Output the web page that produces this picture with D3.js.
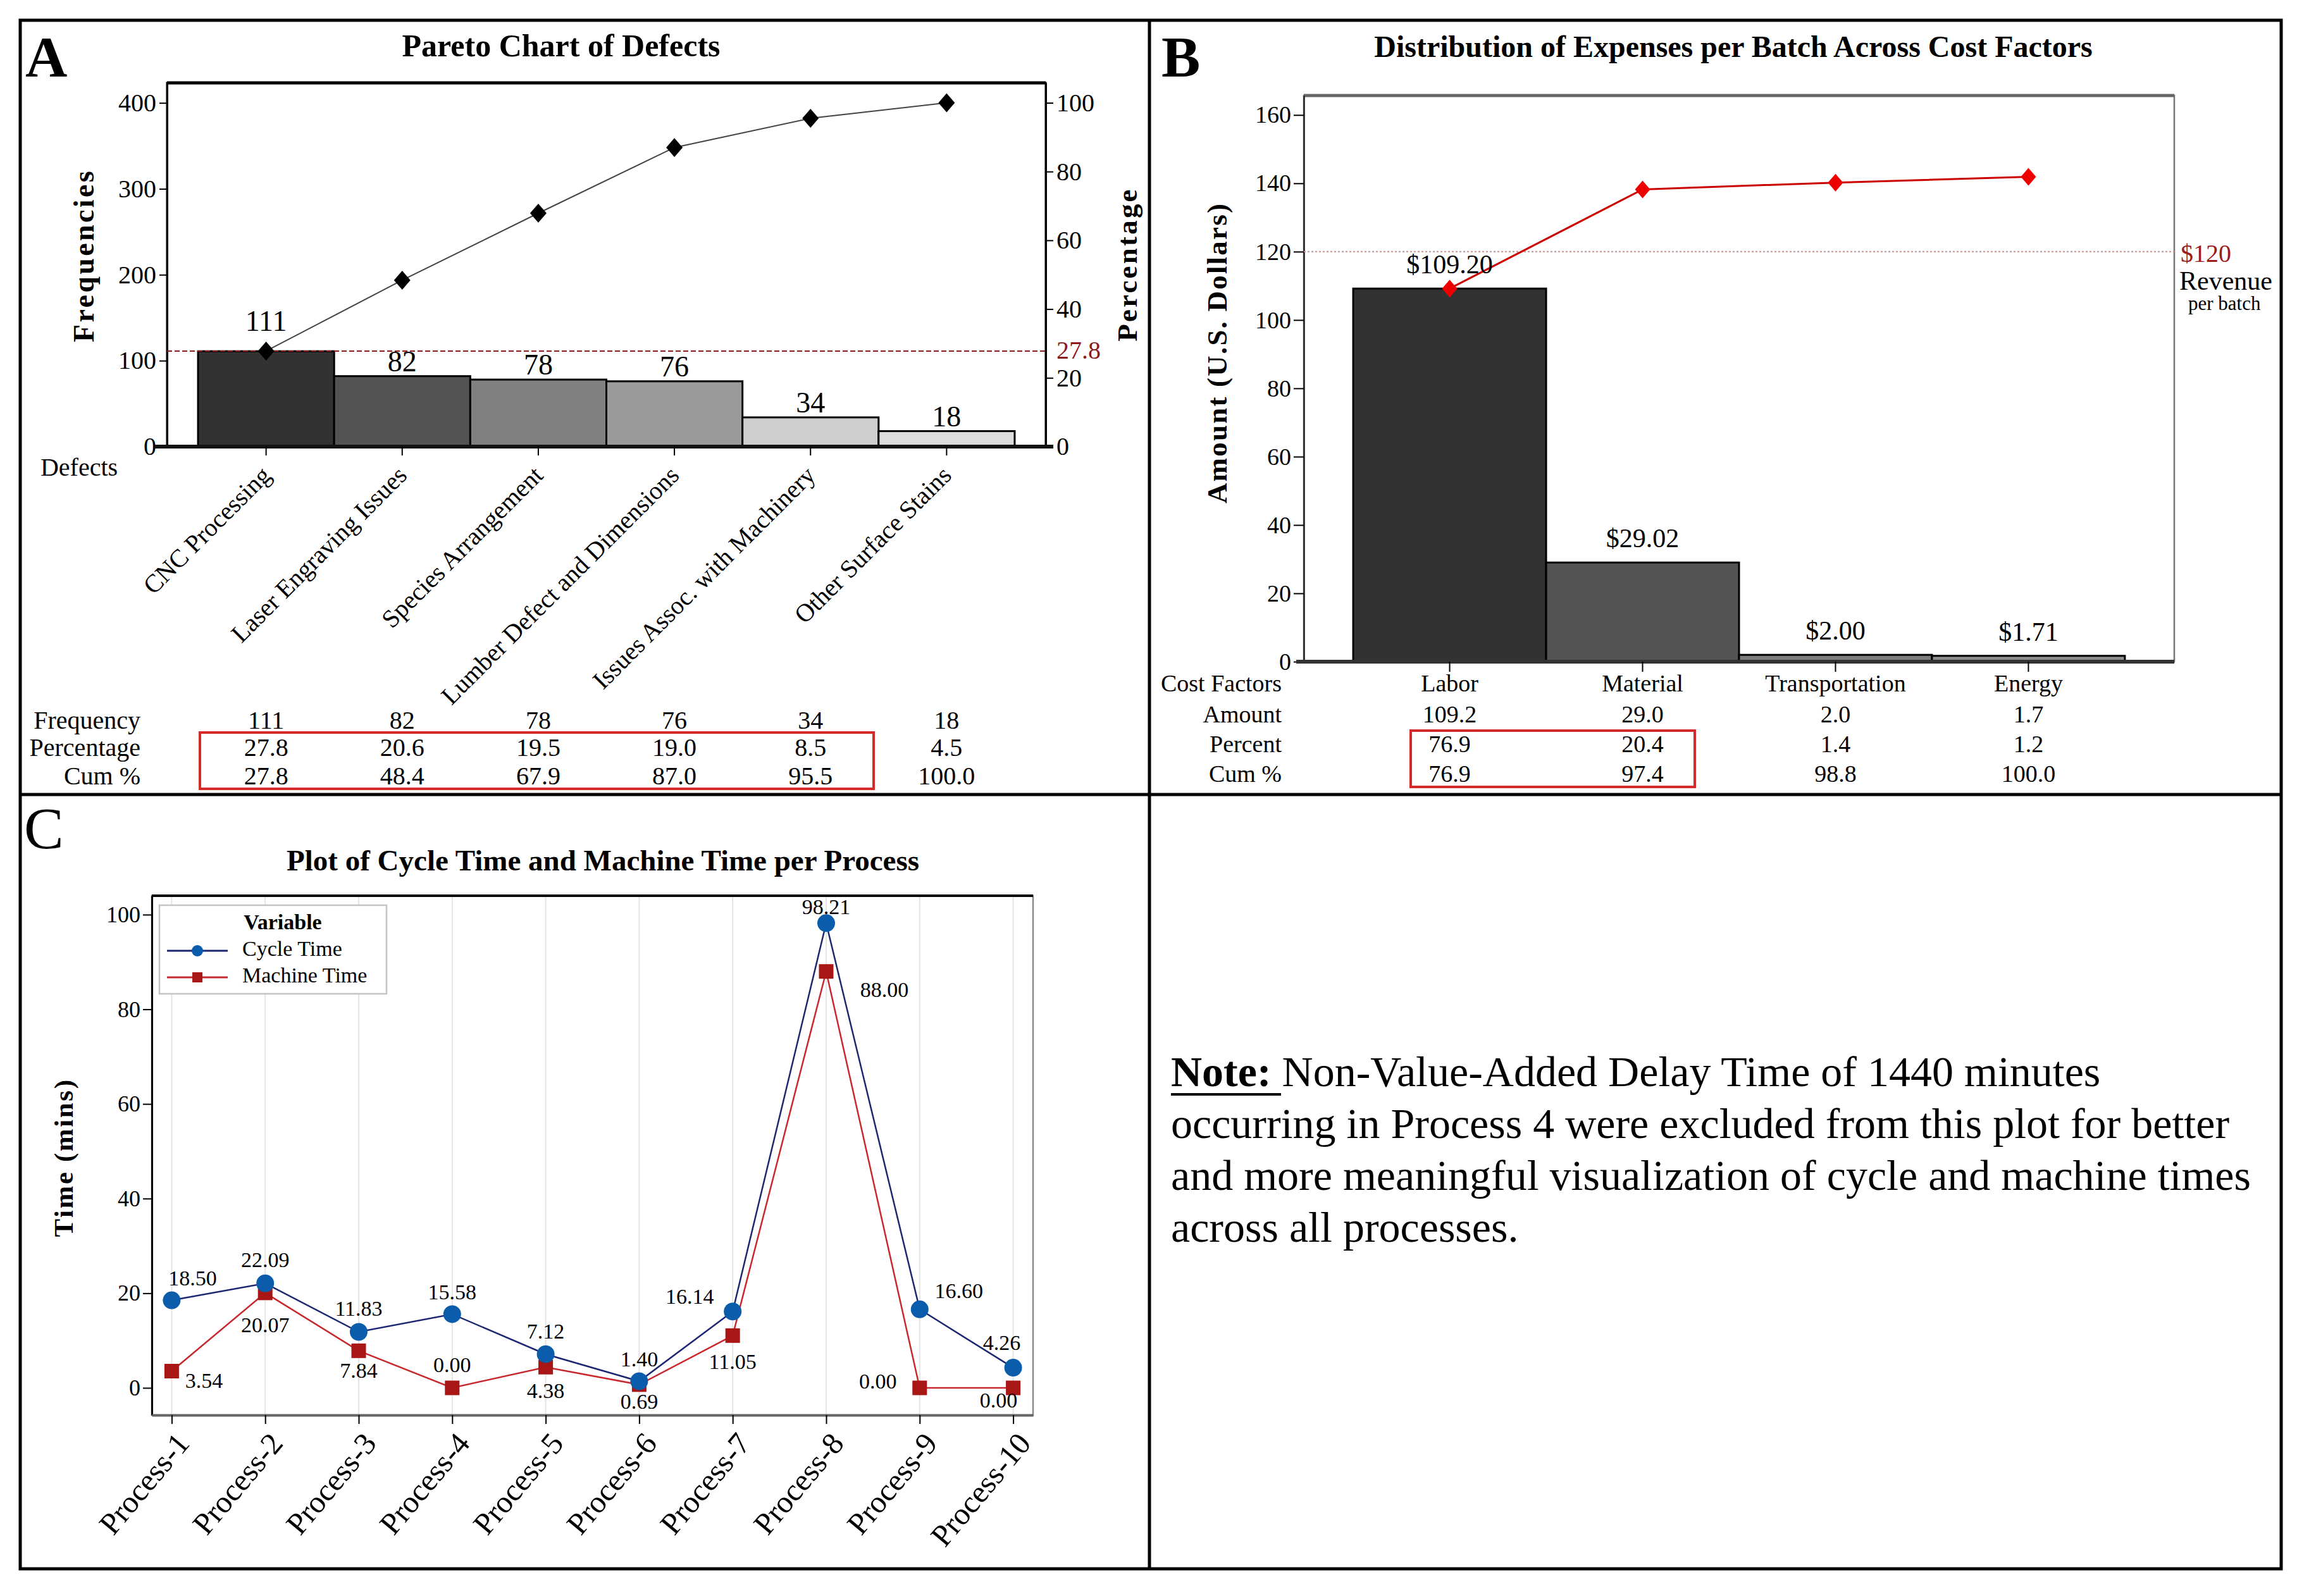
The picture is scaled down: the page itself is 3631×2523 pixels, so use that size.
<!DOCTYPE html>
<html>
<head>
<meta charset="utf-8">
<script src="https://cdn.jsdelivr.net/npm/d3@7"></script>
<style>
  body { margin: 0; background: #fff; }
  svg { display: block; }
</style>
</head>
<body>
<svg id="fig"></svg>
<script>
// ---- data: panel A (pareto of defects)
const defects = ["CNC Processing", "Laser Engraving Issues", "Species Arrangement",
                 "Lumber Defect and Dimensions", "Issues Assoc. with Machinery", "Other Surface Stains"];
const defectFreq = [111, 82, 78, 76, 34, 18];
const defectPct = [27.8, 20.6, 19.5, 19.0, 8.5, 4.5];
const defectCum = [27.8, 48.4, 67.9, 87.0, 95.5, 100.0];
const freqTicks = [0, 100, 200, 300, 400];
const pctTicks = [0, 20, 40, 60, 80, 100];

// ---- data: panel B (expenses per batch)
const costFactors = ["Labor", "Material", "Transportation", "Energy"];
const costAmount = [109.20, 29.02, 2.00, 1.71];
const costPct = [76.9, 20.4, 1.4, 1.2];
const costCum = [76.9, 97.4, 98.8, 100.0];
const costTicks = [0, 20, 40, 60, 80, 100, 120, 140, 160];
const revenue = 120;

// ---- data: panel C (cycle vs machine time)
const processes = ["Process-1", "Process-2", "Process-3", "Process-4", "Process-5",
                   "Process-6", "Process-7", "Process-8", "Process-9", "Process-10"];
const cycleTime = [18.50, 22.09, 11.83, 15.58, 7.12, 1.40, 16.14, 98.21, 16.60, 4.26];
const machineTime = [3.54, 20.07, 7.84, 0.00, 4.38, 0.69, 11.05, 88.00, 0.00, 0.00];
const timeTicks = [0, 20, 40, 60, 80, 100];

// label placement for panel C value labels (dx, dy from the point)
const cycleLabelOff = [[33,-35],[0,-37],[0,-37],[0,-35],[0,-36],[0,-35],[-68,-24],[0,-26],[62,-29],[-18,-40]];
const machineLabelOff = [[51,15],[0,51],[0,31],[0,-36],[0,37],[0,27],[0,41],[92,29],[-66,-10],[-23,20]];

const W = 3631, H = 2523;
const FONT = '"Liberation Serif", "Times New Roman", serif';

const svg = d3.select('#fig').attr('width', W).attr('height', H)
    .attr('font-family', FONT);

svg.append('rect').attr('width', W).attr('height', H).attr('fill', '#fff');

function txt(g, x, y, s, size, opts = {}) {
  return g.append('text')
      .attr('x', x).attr('y', y)
      .attr('font-size', size)
      .attr('font-weight', opts.bold ? 'bold' : null)
      .attr('text-anchor', opts.anchor || 'start')
      .attr('fill', opts.fill || '#000')
      .attr('letter-spacing', opts.ls || null)
      .text(s);
}

function vtxt(g, x, y, s, size, ls) {
  return g.append('text')
      .attr('transform', `translate(${x},${y}) rotate(-90)`)
      .attr('font-size', size).attr('font-weight', 'bold')
      .attr('text-anchor', 'middle').attr('dominant-baseline', 'central')
      .attr('letter-spacing', ls)
      .text(s);
}

function styleAxis(g, size) {
  g.attr('font-family', FONT).attr('font-size', size);
  g.selectAll('text').attr('fill', '#000').attr('font-family', FONT).attr('font-size', size);
  g.selectAll('.tick line').attr('stroke', '#000').attr('stroke-width', 2);
}

function diamond(w, h) {
  return `M0,${-h}L${w},0L0,${h}L${-w},0Z`;
}

// ---- panel A
{
  const g = svg.append('g');
  const L = 264, R = 1653, T = 131, B = 706;
  const x = d3.scaleBand().domain(defects).range([L, R]).paddingInner(0).paddingOuter(0.228);
  const y = d3.scaleLinear().domain([0, 423.3]).range([B, T]);
  const y2 = d3.scaleLinear().domain([0, 105.8]).range([B, T]);
  const fills = ['#323232', '#535353', '#808080', '#9a9a9a', '#cecece', '#dcdcdc'];

  txt(g, 40, 121, 'A', 92, {bold: true});
  txt(g, 887, 89, 'Pareto Chart of Defects', 50, {bold: true, anchor: 'middle'});

  g.append('rect').attr('x', L).attr('y', T).attr('width', R - L).attr('height', B - T)
      .attr('fill', 'none').attr('stroke', '#000').attr('stroke-width', 3);
  g.append('line').attr('x1', L).attr('x2', R).attr('y1', T).attr('y2', T)
      .attr('stroke', '#000').attr('stroke-width', 5);

  g.selectAll('.barA').data(defects).join('rect')
      .attr('x', d => x(d)).attr('width', x.bandwidth())
      .attr('y', (d, i) => y(defectFreq[i]))
      .attr('height', (d, i) => B - y(defectFreq[i]))
      .attr('fill', (d, i) => fills[i])
      .attr('stroke', '#000').attr('stroke-width', 3);

  const ax = g.append('g').attr('transform', `translate(${L},0)`)
      .call(d3.axisLeft(y).tickValues(freqTicks).tickSize(12).tickPadding(5).tickSizeOuter(0));
  ax.select('.domain').attr('stroke', '#000').attr('stroke-width', 3);
  styleAxis(ax, 40);

  const ax2 = g.append('g').attr('transform', `translate(${R},0)`)
      .call(d3.axisRight(y2).tickValues(pctTicks).tickSize(12).tickPadding(5).tickSizeOuter(0));
  ax2.select('.domain').attr('stroke', '#000').attr('stroke-width', 3);
  styleAxis(ax2, 40);

  const axb = g.append('g').attr('transform', `translate(0,${B})`)
      .call(d3.axisBottom(x).tickSize(14).tickFormat('').tickSizeOuter(0));
  axb.select('.domain').attr('stroke', '#111').attr('stroke-width', 6)
      .attr('d', `M${L - 20},0H${R + 12}`);
  styleAxis(axb, 38);

  // 27.8 reference line
  const yRef = y2(defectCum[0]);
  g.append('line').attr('x1', L).attr('x2', R).attr('y1', yRef).attr('y2', yRef)
      .attr('stroke', '#8b1a1a').attr('stroke-width', 2).attr('stroke-dasharray', '8,4');
  txt(g, R + 17, yRef + 12, defectCum[0].toFixed(1), 40, {fill: '#8b1a1a'});

  // cumulative line
  const cx = d => x(d) + x.bandwidth() / 2;
  g.append('path').datum(defects)
      .attr('d', d3.line().x(cx).y((d, i) => y2(defectCum[i])))
      .attr('fill', 'none').attr('stroke', '#444').attr('stroke-width', 2);
  g.selectAll('.dmA').data(defects).join('path')
      .attr('transform', (d, i) => `translate(${cx(d)},${y2(defectCum[i])})`)
      .attr('d', diamond(13, 15)).attr('fill', '#000');

  // bar value labels (lifted above the marker when it sits on the bar top)
  g.selectAll('.lbA').data(defects).join('text')
      .attr('x', cx)
      .attr('y', (d, i) => {
        const yb = y(defectFreq[i]), yp = y2(defectCum[i]);
        return (Math.abs(yb - yp) < 30 ? Math.min(yb, yp) - 24 : yb) - 8;
      })
      .attr('text-anchor', 'middle').attr('font-size', 46)
      .text((d, i) => defectFreq[i]);

  txt(g, 125, 752, 'Defects', 40, {anchor: 'middle'});

  g.selectAll('.catA').data(defects).join('text')
      .attr('transform', d => `translate(${cx(d) - 10},${B + 28}) rotate(-45)`)
      .attr('text-anchor', 'end').attr('dy', '0.7em').attr('font-size', 40)
      .text(d => d);

  vtxt(g, 132, 404, 'Frequencies', 46, 3.4);
  vtxt(g, 1782, 418, 'Percentage', 45, 3.2);

  // summary table
  const rows = [['Frequency', defectFreq.map(String), 1152],
                ['Percentage', defectPct.map(v => v.toFixed(1)), 1195],
                ['Cum %', defectCum.map(v => v.toFixed(1)), 1240]];
  rows.forEach(r => {
    txt(g, 222, r[2], r[0], 40, {anchor: 'end'});
    g.selectAll(null).data(defects).join('text')
        .attr('x', cx).attr('y', r[2]).attr('text-anchor', 'middle').attr('font-size', 40)
        .text((d, i) => r[1][i]);
  });
  g.append('rect').attr('x', 316).attr('y', 1158).attr('width', 1065).attr('height', 89)
      .attr('fill', 'none').attr('stroke', '#d42a2a').attr('stroke-width', 4);
}

// ---- panel B
{
  const g = svg.append('g');
  const L = 2061, R = 3437, T = 151, B = 1046;
  const x = d3.scaleBand().domain(costFactors).range([L, R]).paddingInner(0).paddingOuter(0.256);
  const y = d3.scaleLinear().domain([0, 165.7]).range([B, T]);
  const fills = ['#323232', '#535353', '#7d7d7d', '#8e8e8e'];
  const cx = d => x(d) + x.bandwidth() / 2;
  const cum = d3.cumsum(costAmount);

  txt(g, 1836, 121, 'B', 92, {bold: true});
  txt(g, 2740, 90, 'Distribution of Expenses per Batch Across Cost Factors', 48, {bold: true, anchor: 'middle'});

  g.append('rect').attr('x', L).attr('y', T).attr('width', R - L).attr('height', B - T)
      .attr('fill', 'none').attr('stroke', '#777').attr('stroke-width', 2.5);
  g.append('line').attr('x1', L).attr('x2', R).attr('y1', T).attr('y2', T)
      .attr('stroke', '#666').attr('stroke-width', 5);

  g.selectAll('.barB').data(costFactors).join('rect')
      .attr('x', d => x(d)).attr('width', x.bandwidth())
      .attr('y', (d, i) => y(costAmount[i]))
      .attr('height', (d, i) => B - y(costAmount[i]))
      .attr('fill', (d, i) => fills[i])
      .attr('stroke', '#000').attr('stroke-width', 3);

  const ax = g.append('g').attr('transform', `translate(${L},0)`)
      .call(d3.axisLeft(y).tickValues(costTicks).tickSize(16).tickPadding(4).tickSizeOuter(0));
  ax.select('.domain').attr('stroke', '#222').attr('stroke-width', 2.5);
  styleAxis(ax, 38);

  const axb = g.append('g').attr('transform', `translate(0,${B})`)
      .call(d3.axisBottom(x).tickSize(16).tickFormat('').tickSizeOuter(0));
  axb.select('.domain').attr('stroke', '#333').attr('stroke-width', 6)
      .attr('d', `M${L - 12},0H${R}`);
  styleAxis(axb, 38);

  // revenue line
  g.append('line').attr('x1', L).attr('x2', R).attr('y1', y(revenue)).attr('y2', y(revenue))
      .attr('stroke', '#d98888').attr('stroke-width', 2).attr('stroke-dasharray', '3,3');
  txt(g, 3447, 414, '$' + revenue, 40, {fill: '#9b1c1c'});
  txt(g, 3445, 458, 'Revenue', 42);
  txt(g, 3459, 490, 'per batch', 31);

  // cumulative line
  g.append('path').datum(costFactors)
      .attr('d', d3.line().x(cx).y((d, i) => y(cum[i])))
      .attr('fill', 'none').attr('stroke', '#cc0000').attr('stroke-width', 3);
  g.selectAll('.dmB').data(costFactors).join('path')
      .attr('transform', (d, i) => `translate(${cx(d)},${y(cum[i])})`)
      .attr('d', diamond(12, 14)).attr('fill', '#ee0000');

  g.selectAll('.lbB').data(costFactors).join('text')
      .attr('x', cx).attr('y', (d, i) => y(costAmount[i]) - 24)
      .attr('text-anchor', 'middle').attr('font-size', 42)
      .text((d, i) => '$' + costAmount[i].toFixed(2));

  vtxt(g, 1924, 558, 'Amount (U.S. Dollars)', 45, 2.2);

  const rows = [['Cost Factors', costFactors, 1093],
                ['Amount', costAmount.map(v => v.toFixed(1)), 1142],
                ['Percent', costPct.map(v => v.toFixed(1)), 1189],
                ['Cum %', costCum.map(v => v.toFixed(1)), 1236]];
  rows.forEach(r => {
    txt(g, 2026, r[2], r[0], 38, {anchor: 'end'});
    g.selectAll(null).data(costFactors).join('text')
        .attr('x', cx).attr('y', r[2]).attr('text-anchor', 'middle').attr('font-size', 38)
        .text((d, i) => r[1][i]);
  });
  g.append('rect').attr('x', 2230).attr('y', 1155).attr('width', 449).attr('height', 89)
      .attr('fill', 'none').attr('stroke', '#d42a2a').attr('stroke-width', 4);
}

// ---- panel C
{
  const g = svg.append('g');
  const L = 240, R = 1633, T = 1416, B = 2237;
  const x = d3.scalePoint().domain(processes).range([L, R]).padding(0.2125);
  const y = d3.scaleLinear().domain([-5.75, 104]).range([B, T]);

  txt(g, 38, 1341, 'C', 94);
  txt(g, 953, 1376, 'Plot of Cycle Time and Machine Time per Process', 47, {bold: true, anchor: 'middle'});

  g.selectAll('.grid').data(processes).join('line')
      .attr('x1', d => x(d)).attr('x2', d => x(d)).attr('y1', T).attr('y2', B)
      .attr('stroke', '#e4e4e4').attr('stroke-width', 2);

  g.append('rect').attr('x', L).attr('y', T).attr('width', R - L).attr('height', B - T)
      .attr('fill', 'none').attr('stroke', '#888').attr('stroke-width', 2.5);
  g.append('line').attr('x1', L).attr('x2', R).attr('y1', T).attr('y2', T)
      .attr('stroke', '#000').attr('stroke-width', 4);

  const ax = g.append('g').attr('transform', `translate(${L},0)`)
      .call(d3.axisLeft(y).tickValues(timeTicks).tickSize(14).tickPadding(4).tickSizeOuter(0));
  ax.select('.domain').attr('stroke', '#000').attr('stroke-width', 3);
  styleAxis(ax, 36);

  const axb = g.append('g').attr('transform', `translate(0,${B})`)
      .call(d3.axisBottom(x).tickSize(14).tickFormat('').tickSizeOuter(0));
  axb.select('.domain').attr('stroke', '#666').attr('stroke-width', 4);
  styleAxis(axb, 36);

  g.selectAll('.procLbl').data(processes).join('text')
      .attr('transform', d => `translate(${x(d) + 4},${B + 24}) rotate(-50)`)
      .attr('text-anchor', 'end').attr('dy', '0.7em').attr('font-size', 49)
      .text(d => d);

  g.append('path').datum(processes)
      .attr('d', d3.line().x(d => x(d)).y((d, i) => y(cycleTime[i])))
      .attr('fill', 'none').attr('stroke', '#1d2670').attr('stroke-width', 2.5);
  g.append('path').datum(processes)
      .attr('d', d3.line().x(d => x(d)).y((d, i) => y(machineTime[i])))
      .attr('fill', 'none').attr('stroke', '#c8282d').attr('stroke-width', 2.5);

  g.selectAll('.sqC').data(processes).join('rect')
      .attr('x', d => x(d) - 11.5).attr('y', (d, i) => y(machineTime[i]) - 11.5)
      .attr('width', 23).attr('height', 23).attr('fill', '#a81616');
  g.selectAll('.ciC').data(processes).join('circle')
      .attr('cx', d => x(d)).attr('cy', (d, i) => y(cycleTime[i])).attr('r', 14)
      .attr('fill', '#0b5cab');

  g.selectAll('.lbCy').data(processes).join('text')
      .attr('x', (d, i) => x(d) + cycleLabelOff[i][0])
      .attr('y', (d, i) => y(cycleTime[i]) + cycleLabelOff[i][1])
      .attr('text-anchor', 'middle').attr('dominant-baseline', 'central').attr('font-size', 34)
      .text((d, i) => cycleTime[i].toFixed(2));
  g.selectAll('.lbMa').data(processes).join('text')
      .attr('x', (d, i) => x(d) + machineLabelOff[i][0])
      .attr('y', (d, i) => y(machineTime[i]) + machineLabelOff[i][1])
      .attr('text-anchor', 'middle').attr('dominant-baseline', 'central').attr('font-size', 34)
      .text((d, i) => machineTime[i].toFixed(2));

  // legend
  const lg = g.append('g');
  lg.append('rect').attr('x', 252).attr('y', 1431).attr('width', 359).attr('height', 140)
      .attr('fill', '#fff').attr('stroke', '#c4c4c4').attr('stroke-width', 2.5);
  txt(lg, 447, 1469, 'Variable', 34, {bold: true, anchor: 'middle'});
  lg.append('line').attr('x1', 264).attr('x2', 360).attr('y1', 1503).attr('y2', 1503)
      .attr('stroke', '#1d2670').attr('stroke-width', 3);
  lg.append('circle').attr('cx', 312).attr('cy', 1503).attr('r', 9).attr('fill', '#0b5cab');
  txt(lg, 383, 1511, 'Cycle Time', 34);
  lg.append('line').attr('x1', 264).attr('x2', 360).attr('y1', 1545).attr('y2', 1545)
      .attr('stroke', '#c8282d').attr('stroke-width', 3);
  lg.append('rect').attr('x', 304).attr('y', 1537).attr('width', 16).attr('height', 16).attr('fill', '#a81616');
  txt(lg, 383, 1553, 'Machine Time', 34);

  vtxt(g, 100, 1830, 'Time (mins)', 43, 2.6);
}

// ---- panel D (note)
{
  const g = svg.append('g');
  const lines = ['Non-Value-Added Delay Time of 1440 minutes',
                 'occurring in Process 4 were excluded from this plot for better',
                 'and more meaningful visualization of cycle and machine times',
                 'across all processes.'];
  const t0 = g.append('text').attr('x', 1851).attr('y', 1717).attr('font-size', 68);
  t0.append('tspan').attr('font-weight', 'bold').text('Note:');
  t0.append('tspan').text('\u00a0' + lines[0]);
  g.append('line').attr('x1', 1851).attr('x2', 2025).attr('y1', 1730).attr('y2', 1730)
      .attr('stroke', '#000').attr('stroke-width', 4);
  lines.slice(1).forEach((s, i) => txt(g, 1851, 1717 + 82 * (i + 1), s, 68));
}

// ---- outer frame and dividers
svg.append('rect').attr('x', 32).attr('y', 32).attr('width', 3574).attr('height', 2448)
    .attr('fill', 'none').attr('stroke', '#000').attr('stroke-width', 5);
svg.append('line').attr('x1', 1817).attr('x2', 1817).attr('y1', 32).attr('y2', 2480)
    .attr('stroke', '#000').attr('stroke-width', 5);
svg.append('line').attr('x1', 32).attr('x2', 3606).attr('y1', 1256).attr('y2', 1256)
    .attr('stroke', '#000').attr('stroke-width', 5);
</script>
</body>
</html>
